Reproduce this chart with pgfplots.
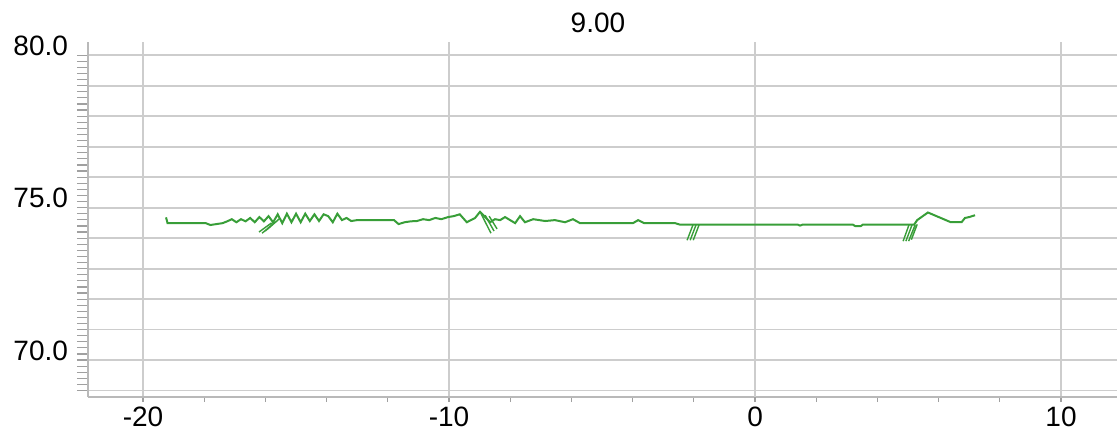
\documentclass[border=0pt]{standalone}
\usepackage{fontspec}
\setmainfont{Liberation Sans}
\usepackage{pgfplots}
\pgfplotsset{compat=1.18}
\definecolor{lg}{RGB}{56,158,56}
\definecolor{gridc}{RGB}{205,205,205}
\definecolor{zc}{RGB}{170,170,170}
\definecolor{axc}{RGB}{185,185,185}
\definecolor{tc}{RGB}{160,160,160}
\begin{document}
\begin{tikzpicture}
\useasboundingbox (-44pt,-18pt) rectangle (514.5pt,198.5pt);
\begin{axis}[
  at={(0,0)}, anchor=south west,
  scale only axis, width=514.5pt, height=177.5pt,
  xmin=-21.80, xmax=11.83,
  ymin=68.79, ymax=80.43,
  axis lines*=left,
  axis line style={axc, line width=0.9pt},
  xtick={-20,-10,0,10}, xticklabels={-20,-10,0,10},
  minor xtick={-18,-16,-14,-12,-8,-6,-4,-2,2,4,6,8},
  extra x ticks={0}, extra x tick labels={},
  extra x tick style={grid style={zc, line width=1pt}},
  ytick={69,70,...,80},
  yticklabels={,70.0,,,,,75.0,,,,,80.0},
  minor y tick num=4,
  xmajorgrids, ymajorgrids,
  major grid style={gridc, line width=0.9pt},
  tick align=outside,
  major tick length=5.5pt, minor tick length=5.5pt,
  tick style={tc, line width=0.6pt},
  xtick style={/pgfplots/major tick length=2.5pt, /pgfplots/minor tick length=2.5pt},
  ticklabel style={font=\fontsize{14}{16}\selectfont, text=black},
  yticklabel style={anchor=base east, xshift=-1pt},
  xticklabel style={anchor=north, yshift=4pt},
  title={9.00},
  title style={at={(0.4956,1)}, anchor=base, yshift=-1.5pt, font=\fontsize{14}{16}\selectfont},
  clip=true,
  unbounded coords=jump,
]
\addplot[lg, line width=1pt] coordinates {
(-19.25,74.68) (-19.20,74.49) (-17.95,74.49) (-17.80,74.43) (-17.60,74.46)
(-17.40,74.49) (-17.25,74.55) (-17.10,74.62) (-16.95,74.52) (-16.80,74.62)
(-16.65,74.55) (-16.50,74.66) (-16.35,74.52) (-16.20,74.69) (-16.05,74.55)
(-15.90,74.72) (-15.75,74.52) (-15.60,74.78) (-15.45,74.49) (-15.30,74.80)
(-15.15,74.52) (-15.00,74.80) (-14.85,74.52) (-14.70,74.80) (-14.55,74.56)
(-14.40,74.78) (-14.25,74.56) (-14.10,74.78) (-13.95,74.72) (-13.80,74.52)
(-13.65,74.80) (-13.50,74.59) (-13.35,74.66) (-13.20,74.56) (-13.00,74.59)
(-11.80,74.59) (-11.65,74.46) (-11.45,74.52) (-11.25,74.55) (-11.05,74.56)
(-10.85,74.62) (-10.65,74.59) (-10.45,74.66) (-10.25,74.62) (-10.03,74.69)
(-9.85,74.72) (-9.65,74.78) (-9.42,74.52) (-9.15,74.66) (-8.99,74.86)
(-8.82,74.69) (-8.66,74.52) (-8.50,74.62) (-8.33,74.59) (-8.17,74.69)
(-7.84,74.49) (-7.68,74.72) (-7.52,74.52) (-7.25,74.62) (-6.86,74.56)
(-6.54,74.59) (-6.21,74.52) (-5.95,74.62) (-5.72,74.49) (-3.99,74.49)
(-3.82,74.59) (-3.62,74.49) (-2.61,74.49) (-2.45,74.44) (1.40,74.44)
(1.47,74.41) (1.55,74.44) (3.20,74.44) (3.28,74.39) (3.45,74.39)
(3.52,74.44) (5.20,74.44) (5.30,74.59) (5.65,74.84) (6.40,74.52)
(6.75,74.52) (6.86,74.66) (7.00,74.69) (7.19,74.75)
};
\addplot[lg, line width=0.7pt] coordinates {
(-16.11,74.16) (-15.69,74.52) (0,nan)
(-16.01,74.23) (-15.59,74.59) (0,nan)
(-15.92,74.30) (-15.52,74.66) (0,nan)
(-16.21,74.20) (-15.80,74.50) (0,nan)
(-8.95,74.79) (-8.63,74.16) (0,nan)
(-8.82,74.75) (-8.53,74.23) (0,nan)
(-8.69,74.72) (-8.43,74.30) (0,nan)
(-2.22,73.93) (-2.03,74.43) (0,nan)
(-2.12,73.93) (-1.93,74.43) (0,nan)
(-2.02,73.93) (-1.83,74.43) (0,nan)
(4.84,73.90) (5.03,74.43) (0,nan)
(4.93,73.90) (5.13,74.43) (0,nan)
(5.02,73.90) (5.23,74.43) (0,nan)
(5.11,73.95) (5.30,74.45)
};
\end{axis}
\end{tikzpicture}
\end{document}
